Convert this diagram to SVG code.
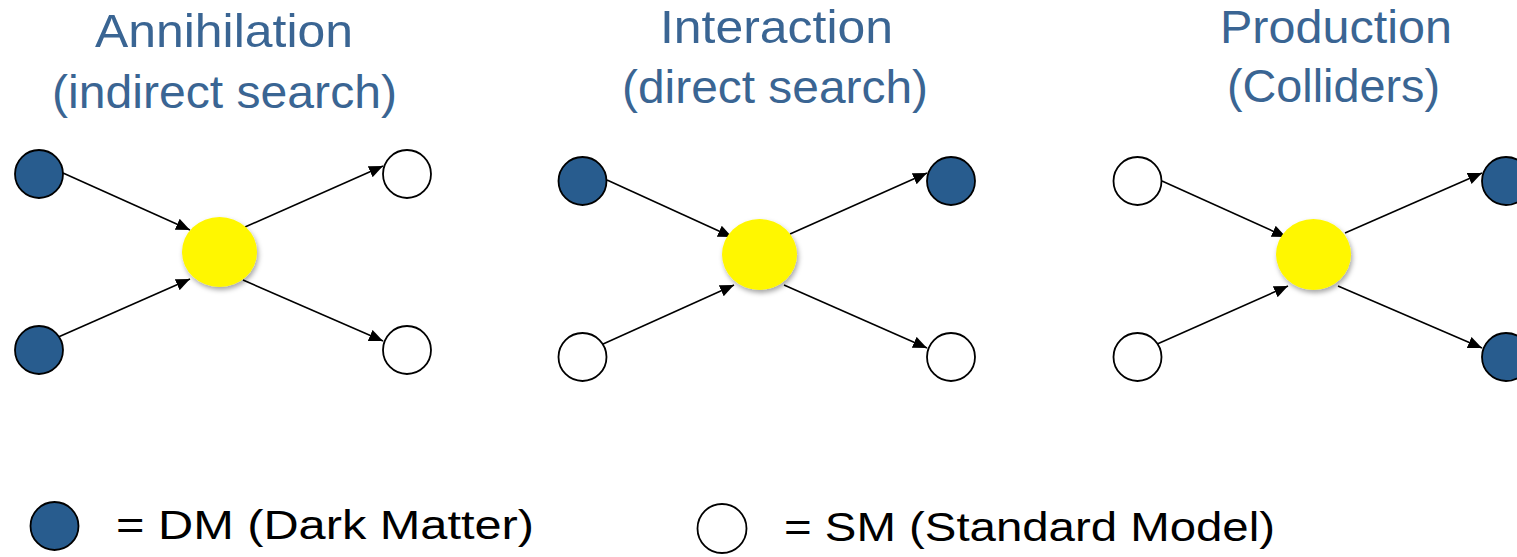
<svg xmlns="http://www.w3.org/2000/svg" width="1517" height="557" viewBox="0 0 1517 557">
<style>
.title{font-family:"Liberation Sans",Arial,sans-serif;font-size:47px;fill:#3A6593;text-anchor:middle}
.legend{font-family:"Liberation Sans",Arial,sans-serif;font-size:40px;fill:#000}
.dm{fill:#285C8E;stroke:#000;stroke-width:1.8}
.sm{fill:#fff;stroke:#000;stroke-width:1.8}
.core{fill:#FFF700;stroke:none;filter:url(#shadow)}
.conn line{stroke:#000;stroke-width:1.6;marker-end:url(#arrow)}
</style>
<defs>
<marker id="arrow" markerUnits="userSpaceOnUse" markerWidth="16" markerHeight="14" refX="14" refY="6" orient="auto">
<path d="M0,0 L14,6 L0,12 z" fill="#000"/>
</marker>
<filter id="shadow" x="-30%" y="-30%" width="160%" height="160%">
<feDropShadow dx="1.5" dy="3" stdDeviation="2.5" flood-color="#000" flood-opacity="0.35"/>
</filter>
</defs>
<rect width="1517" height="557" fill="#fff"/>

<g id="titles">
<text class="title" x="224" y="47" textLength="258" lengthAdjust="spacingAndGlyphs">Annihilation</text>
<text class="title" x="224.5" y="108" textLength="345" lengthAdjust="spacingAndGlyphs">(indirect search)</text>
<text class="title" x="776.5" y="43" textLength="233" lengthAdjust="spacingAndGlyphs">Interaction</text>
<text class="title" x="775" y="103" textLength="306" lengthAdjust="spacingAndGlyphs">(direct search)</text>
<text class="title" x="1336" y="43" textLength="232" lengthAdjust="spacingAndGlyphs">Production</text>
<text class="title" x="1333.5" y="102" textLength="213" lengthAdjust="spacingAndGlyphs">(Colliders)</text>
</g>

<g id="connectors" class="conn">
<line x1="63" y1="173" x2="190" y2="230"/>
<line x1="47" y1="342" x2="190" y2="279"/>
<line x1="245" y1="227" x2="383" y2="166"/>
<line x1="243" y1="280" x2="383" y2="341"/>

<line x1="607" y1="180" x2="732" y2="237"/>
<line x1="592" y1="349" x2="734" y2="285"/>
<line x1="790" y1="234" x2="927" y2="173"/>
<line x1="784" y1="285" x2="927" y2="348"/>

<line x1="1162" y1="181" x2="1286" y2="237"/>
<line x1="1146" y1="349" x2="1288" y2="286"/>
<line x1="1345" y1="233" x2="1482" y2="173"/>
<line x1="1338" y1="286" x2="1482" y2="348"/>
</g>

<g id="panel1">
<circle id="p1-in1" class="dm" cx="39" cy="174" r="24"/>
<circle id="p1-in2" class="dm" cx="39" cy="350" r="24"/>
<ellipse id="p1-core" class="core" cx="219.5" cy="252" rx="37.5" ry="35"/>
<circle id="p1-out1" class="sm" cx="407" cy="174" r="24"/>
<circle id="p1-out2" class="sm" cx="407" cy="350" r="24"/>
</g>

<g id="panel2">
<circle id="p2-in1" class="dm" cx="582.5" cy="181" r="24"/>
<circle id="p2-in2" class="sm" cx="582.5" cy="357" r="24"/>
<ellipse id="p2-core" class="core" cx="759.5" cy="254.5" rx="37.5" ry="35.5"/>
<circle id="p2-out1" class="dm" cx="951" cy="181" r="24"/>
<circle id="p2-out2" class="sm" cx="951" cy="357" r="24"/>
</g>

<g id="panel3">
<circle id="p3-in1" class="sm" cx="1137.5" cy="181" r="24"/>
<circle id="p3-in2" class="sm" cx="1137.5" cy="357" r="24"/>
<ellipse id="p3-core" class="core" cx="1313.5" cy="254.5" rx="37.5" ry="35.5"/>
<circle id="p3-out1" class="dm" cx="1506" cy="181" r="24"/>
<circle id="p3-out2" class="dm" cx="1506" cy="357" r="24"/>
</g>

<g id="legend-dm">
<circle class="dm" cx="54.5" cy="526" r="24"/>
<text class="legend" x="116" y="539" textLength="418" lengthAdjust="spacingAndGlyphs">= DM (Dark Matter)</text>
</g>
<g id="legend-sm">
<circle class="sm" cx="722" cy="528.5" r="24.5"/>
<text class="legend" x="784" y="541" textLength="491" lengthAdjust="spacingAndGlyphs">= SM (Standard Model)</text>
</g>
</svg>
